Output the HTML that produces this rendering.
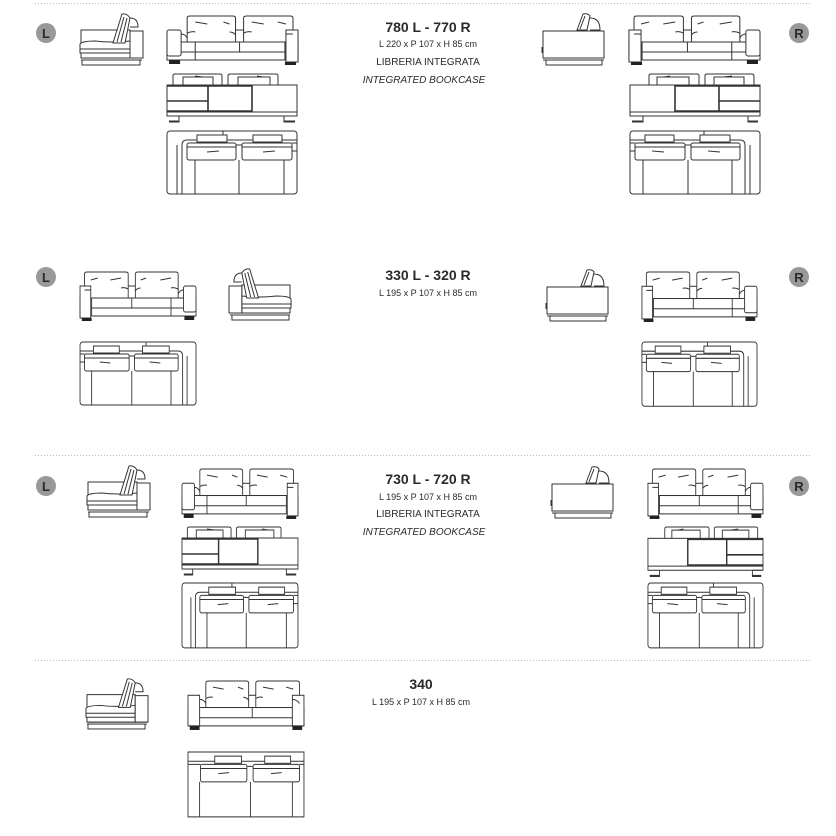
<!DOCTYPE html>
<html><head><meta charset="utf-8"><style>
html,body{margin:0;padding:0;background:#fff;}
svg{display:block;}
text{font-family:"Liberation Sans",sans-serif;fill:#2a2a2a;}
</style></head><body>
<svg width="836" height="836" viewBox="0 0 836 836" xmlns="http://www.w3.org/2000/svg">
<defs>
<g id="sideSeat" fill="none" stroke="#333" stroke-width="1" vector-effect="non-scaling-stroke">
  <path d="M1,17 H50 V45 H1 Z" fill="#fff"/>
  <path d="M0,31 Q2,28 15,28 Q30,30 50,28 V40 H0 Z" fill="#fff"/>
  <path d="M0,36 H50"/>
  <rect x="50" y="18" width="13" height="27" fill="#fff"/>
  <path d="M50,5 Q58,5 58,14 H50" fill="#fff"/>
  <path d="M33,30 L42,1 Q47,0 50,5 L45,30 Z" fill="#fff"/>
  <path d="M37,29 L44,4 M41,29 L47,5"/>
  <path d="M1,45 H63 M1,47 H62"/>
  <rect x="2" y="47" width="58" height="5"/>
</g>
<g id="sideArm" fill="none" stroke="#333" stroke-width="1" vector-effect="non-scaling-stroke">
  <path d="M35,17 L41,1 Q46,0 48,3 L45,17 Z" fill="#fff"/>
  <path d="M38,16 L43,3"/>
  <path d="M48,5 Q58,5 58,17 H48" fill="#fff"/>
  <rect x="1" y="18" width="61" height="27" fill="#fff"/>
  <path d="M1,45 H62 M1,47 H62"/>
  <rect x="4" y="47" width="56" height="5"/>
  <path d="M0,34 V40"/>
</g>
<g id="cush" fill="none" stroke="#333" stroke-width="1" vector-effect="non-scaling-stroke">
  <path d="M20,2 Q20,0 23,0 H65 Q68,0 68,2 V26 H20 Z" fill="#fff"/>
  <path d="M76,2 Q76,0 79,0 H122 Q125,0 125,2 V26 H76 Z" fill="#fff"/>
  <path d="M28,6 L40,8 M56,6 L62,8 M20,17 Q25,15 28,16 M62,16 Q66,16 68,19 M84,6 L96,8 M110,6 L118,8 M76,17 Q80,15 84,16 M118,16 Q122,16 125,19"/>
  <path d="M68,14 H76"/>
</g>
<g id="frontL" fill="none" stroke="#333" stroke-width="1" vector-effect="non-scaling-stroke">
  <use href="#cush"/>
  <rect x="0" y="26" width="130" height="18" fill="#fff"/>
  <path d="M14,36 H117 M28,26 V44 M72,26 V36 M117,26 V44"/>
  <rect x="0" y="14" width="14" height="26" rx="2" fill="#fff"/>
  <rect x="118" y="14" width="12" height="32" fill="#fff"/>
  <path d="M14,18 Q18,18 20,22 M125,18 H118"/>
  <rect x="2" y="44" width="11" height="4" fill="#222" stroke="none"/>
  <rect x="117" y="46" width="11" height="3" fill="#222" stroke="none"/>
</g>
<g id="frontN" fill="none" stroke="#333" stroke-width="1" vector-effect="non-scaling-stroke">
  <use href="#cush"/>
  <rect x="0" y="26" width="130" height="18" fill="#fff"/>
  <path d="M0,36 H130 M13,26 V44 M72,26 V36 M117,26 V44"/>
  <rect x="0" y="14" width="13" height="30" fill="#fff"/>
  <rect x="117" y="14" width="13" height="30" fill="#fff"/>
  <path d="M13,18 Q18,18 20,22 M117,18 Q122,18 125,22"/>
  <rect x="2" y="44" width="11" height="4" fill="#222" stroke="none"/>
  <rect x="117" y="44" width="11" height="4" fill="#222" stroke="none"/>
</g>
<g id="book" fill="none" stroke="#333" stroke-width="1" vector-effect="non-scaling-stroke">
  <path d="M6,11 V2 Q6,0 8,0 H53 Q55,0 55,2 V11"/>
  <path d="M16,11 V3 H46 V11"/>
  <path d="M61,11 V2 Q61,0 63,0 H109 Q111,0 111,2 V11"/>
  <path d="M71,11 V3 H103 V11"/>
  <path d="M28,2 L36,3 M90,2 L96,3"/>
  <rect x="0" y="11" width="130" height="31" fill="#fff"/>
  <path d="M0,38 H130"/>
  <path d="M41,11 V38 M85,11 V38 M0,27 H41" stroke-width="1.6"/>
  <path d="M0,12 H85 M0,37 H85" stroke-width="1.6"/>
  <path d="M2,42 H12 V48 H2 M2,47 H12 M117,42 V48 H128 M117,47 H128"/>
</g>
<g id="topL" fill="none" stroke="#333" stroke-width="1" vector-effect="non-scaling-stroke">
  <rect x="0" y="0" width="130" height="63" rx="3" fill="#fff"/>
  <path d="M15,63 V14 Q15,9 20,9 H130"/>
  <path d="M10,63 V14 M56,0 V9"/>
  <rect x="30" y="4" width="30" height="7" fill="#fff"/>
  <rect x="86" y="4" width="29" height="7" fill="#fff"/>
  <rect x="20" y="12" width="49" height="17" rx="2" fill="#fff"/>
  <rect x="75" y="12" width="50" height="17" rx="2" fill="#fff"/>
  <path d="M20,16 H69 M75,16 H125 M40,21 L52,20 M96,21 L108,20"/>
  <path d="M28,29 V63 M72,29 V63 M117,29 V63 M125,12 H130 M125,20 H130 M69,14 H75"/>
</g>
<g id="topN" fill="none" stroke="#333" stroke-width="1" vector-effect="non-scaling-stroke">
  <rect x="0" y="0" width="130" height="63" fill="#fff"/>
  <path d="M0,9 H130"/>
  <rect x="30" y="4" width="30" height="7" fill="#fff"/>
  <rect x="86" y="4" width="29" height="7" fill="#fff"/>
  <rect x="14" y="12" width="52" height="17" rx="2" fill="#fff"/>
  <rect x="73" y="12" width="52" height="17" rx="2" fill="#fff"/>
  <path d="M14,16 H66 M73,16 H125 M34,21 L46,20 M93,21 L105,20"/>
  <path d="M13,29 V63 M70,29 V63 M117,29 V63 M0,12 H14 M125,12 H130 M66,14 H73"/>
</g>
</defs>

<g stroke="#bbb" stroke-width="1" stroke-dasharray="1,2">
  <line x1="35" y1="3.5" x2="810" y2="3.5"/>
  <line x1="35" y1="455.5" x2="810" y2="455.5"/>
  <line x1="35" y1="660.5" x2="810" y2="660.5"/>
</g>

<g>
  <circle cx="46" cy="33" r="10" fill="#999"/><text x="46" y="38" font-size="13" font-weight="bold" text-anchor="middle">L</text>
  <circle cx="799" cy="33" r="10" fill="#999"/><text x="799" y="38" font-size="13" font-weight="bold" text-anchor="middle">R</text>
  <circle cx="46" cy="277" r="10" fill="#999"/><text x="46" y="282" font-size="13" font-weight="bold" text-anchor="middle">L</text>
  <circle cx="799" cy="277" r="10" fill="#999"/><text x="799" y="282" font-size="13" font-weight="bold" text-anchor="middle">R</text>
  <circle cx="46" cy="486" r="10" fill="#999"/><text x="46" y="491" font-size="13" font-weight="bold" text-anchor="middle">L</text>
  <circle cx="799" cy="486" r="10" fill="#999"/><text x="799" y="491" font-size="13" font-weight="bold" text-anchor="middle">R</text>
</g>

<g text-anchor="middle">
  <text x="428" y="32" font-size="14" font-weight="bold">780 L - 770 R</text>
  <text x="428" y="47" font-size="9">L 220 x P 107 x H 85 cm</text>
  <text x="428" y="65" font-size="10">LIBRERIA INTEGRATA</text>
  <text x="424" y="83" font-size="10" font-style="italic" fill="#555">INTEGRATED BOOKCASE</text>

  <text x="428" y="280" font-size="14" font-weight="bold">330 L - 320 R</text>
  <text x="428" y="296" font-size="9">L 195 x P 107 x H 85 cm</text>

  <text x="428" y="484" font-size="14" font-weight="bold">730 L - 720 R</text>
  <text x="428" y="500" font-size="9">L 195 x P 107 x H 85 cm</text>
  <text x="428" y="517" font-size="10">LIBRERIA INTEGRATA</text>
  <text x="424" y="535" font-size="10" font-style="italic" fill="#555">INTEGRATED BOOKCASE</text>

  <text x="421" y="689" font-size="14" font-weight="bold">340</text>
  <text x="421" y="705" font-size="9">L 195 x P 107 x H 85 cm</text>
</g>

<use href="#sideSeat" transform="translate(80,13)"/>
<use href="#frontL" transform="translate(167,16) scale(1.008,1)"/>
<use href="#book" transform="translate(167,74)"/>
<use href="#topL" transform="translate(167,131)"/>
<use href="#sideArm" transform="translate(542,13)"/>
<use href="#frontL" transform="translate(760,16) scale(-1.008,1)"/>
<use href="#book" transform="translate(760,74) scale(-1,1)"/>
<use href="#topL" transform="translate(760,131) scale(-1,1)"/>

<use href="#frontL" transform="translate(196,272) scale(-0.892,1)"/>
<use href="#sideSeat" transform="translate(291,268) scale(-0.984,1)"/>
<use href="#topL" transform="translate(196,342) scale(-0.892,1)"/>
<use href="#sideArm" transform="translate(546,269)"/>
<use href="#frontL" transform="translate(757,272) scale(-0.885,1.02)"/>
<use href="#topL" transform="translate(757,342) scale(-0.885,1.02)"/>

<use href="#sideSeat" transform="translate(87,465) scale(1,1)"/>
<use href="#frontL" transform="translate(182,469) scale(0.892,1.02)"/>
<use href="#book" transform="translate(182,527) scale(0.892,1)"/>
<use href="#topL" transform="translate(182,583) scale(0.892,1.03)"/>
<use href="#sideArm" transform="translate(551,466)"/>
<use href="#frontL" transform="translate(763,469) scale(-0.885,1.02)"/>
<use href="#book" transform="translate(763,527) scale(-0.885,1.03)"/>
<use href="#topL" transform="translate(763,583) scale(-0.885,1.03)"/>

<use href="#sideSeat" transform="translate(86,678) scale(0.984,0.98)"/>
<use href="#frontN" transform="translate(188,681) scale(0.892,1.02)"/>
<use href="#topN" transform="translate(188,752) scale(0.892,1.03)"/>
</svg>
</body></html>
